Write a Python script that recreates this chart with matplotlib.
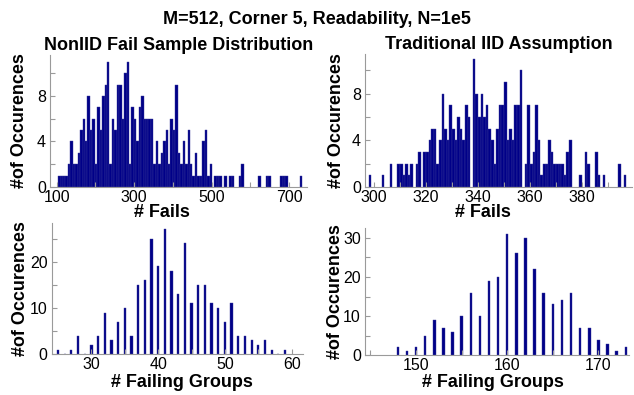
import matplotlib
matplotlib.use("Agg")
import matplotlib.pyplot as plt
import numpy as np

plt.rcParams["font.family"] = ["Liberation Sans", "DejaVu Sans"]

# Fail-count histogram, non-IID sampling (100 equal bins)
NONIID_BIN_START = 104.0
NONIID_BIN_WIDTH = 6.3
noniid_counts = [
    1, 1, 1, 1, 2, 4, 2, 2, 3, 5,
    6, 4, 8, 5, 6, 2, 7, 5, 8, 9,
    11, 2, 6, 5, 9, 9, 6, 10, 11, 2,
    7, 6, 4, 7, 8, 6, 6, 6, 6, 2,
    4, 2, 3, 4, 5, 2, 6, 5, 9, 3,
    2, 4, 2, 5, 2, 1, 3, 1, 1, 4,
    5, 1, 2, 0, 1, 1, 1, 0, 1, 0,
    1, 1, 0, 0, 1, 2, 0, 0, 0, 0,
    0, 0, 1, 0, 0, 1, 1, 0, 0, 0,
    0, 1, 1, 1, 0, 0, 0, 0, 0, 1,
]

# Fail-count histogram under the IID assumption (unit bins)
IID_BIN_START = 298.0
IID_BIN_WIDTH = 1.0
iid_counts = [
    1, 0, 0, 0, 0, 1, 0, 0, 2, 0,
    0, 2, 2, 1, 2, 1, 2, 0, 2, 3,
    0, 3, 3, 4, 5, 5, 2, 4, 8, 5,
    4, 7, 5, 4, 6, 5, 4, 7, 6, 0,
    11, 8, 6, 8, 6, 7, 5, 4, 2, 5,
    7, 7, 9, 4, 5, 4, 7, 7, 10, 0,
    2, 7, 2, 3, 7, 4, 1, 2, 2, 4,
    3, 2, 2, 2, 2, 1, 3, 4, 0, 0,
    0, 1, 0, 3, 2, 0, 0, 3, 1, 0,
    1, 0, 0, 0, 0, 0, 2, 0, 1,
]

# Failing-group counts
noniid_groups = list(range(25, 60))
noniid_group_counts = [
    1, 0, 1, 4, 0, 2, 4, 9, 3, 7,
    10, 4, 15, 16, 25, 19, 27, 18, 13, 24,
    11, 15, 15, 11, 10, 7, 11, 4, 4, 3,
    2, 3, 1, 0, 1,
]
iid_groups = list(range(148, 174))
iid_group_counts = [
    2, 1, 2, 5, 9, 7, 6, 10, 16, 10,
    19, 20, 31, 26, 30, 22, 16, 13, 14, 16,
    7, 7, 4, 3, 1, 2,
]

BAR_COLOR = "#000088"
EDGE_COLOR = "#3a3a9a"
AXIS_COLOR = "#9a9a9a"
W, H = 634, 395


def px_rect(left, top, right, bottom):
    return [left / W, 1 - bottom / H, (right - left) / W, (bottom - top) / H]


def style_axes(ax, xlim, ylim, xmajor, xminor, ymajor, yminor):
    ax.set_xlim(*xlim)
    ax.set_ylim(*ylim)
    for side in ("top", "right"):
        ax.spines[side].set_visible(False)
    for side in ("left", "bottom"):
        ax.spines[side].set_color(AXIS_COLOR)
        ax.spines[side].set_linewidth(0.8)
    ax.set_xticks(xmajor)
    ax.set_xticks(xminor, minor=True)
    ax.set_yticks(ymajor)
    ax.set_yticks(yminor, minor=True)
    ax.tick_params(which="both", direction="in", color=AXIS_COLOR, width=0.8,
                   length=3.5, labelsize=11.5, top=False, right=False)
    ax.tick_params(axis="x", pad=2)
    ax.tick_params(axis="y", pad=3)


def hist_bars(ax, start, width, counts):
    counts = np.asarray(counts, dtype=float)
    edges = start + width * np.arange(len(counts))
    keep = counts > 0
    ax.bar(edges[keep], counts[keep], width=width, align="edge",
           color=BAR_COLOR, edgecolor=EDGE_COLOR, linewidth=0.3)


def label(ax, xlabel, xpos, ylabel_x, xlabel_y):
    ax.set_ylabel("#of Occurences", fontsize=13, fontweight="bold")
    ax.yaxis.set_label_coords(ylabel_x, 0.5)
    ax.set_xlabel(xlabel, fontsize=13, fontweight="bold")
    ax.xaxis.set_label_coords(xpos, xlabel_y)


fig = plt.figure(figsize=(W / 100, H / 100), dpi=100)
fig.text(0.5, 1 - 23.5 / H, "M=512, Corner 5, Readability, N=1e5",
         ha="center", va="baseline", fontsize=13, fontweight="bold")

ax1 = fig.add_axes(px_rect(50, 55, 307, 187))
hist_bars(ax1, NONIID_BIN_START, NONIID_BIN_WIDTH, noniid_counts)
style_axes(ax1, (83, 746), (0, 11.6), [100, 300, 500, 700], [200, 400, 600],
           [0, 4, 8], [2, 6, 10])
ax1.set_title("NonIID Fail Sample Distribution", fontsize=13,
              fontweight="bold", pad=3.5)
label(ax1, "# Fails", 0.436, -0.085, -0.13)

ax2 = fig.add_axes(px_rect(365, 54, 632, 187))
hist_bars(ax2, IID_BIN_START, IID_BIN_WIDTH, iid_counts)
style_axes(ax2, (296.5, 399.2), (0, 11.4), [300, 320, 340, 360, 380],
           [310, 330, 350, 370, 390], [0, 4, 8], [2, 6, 10])
ax2.set_title("Traditional IID Assumption", fontsize=13,
              fontweight="bold", pad=3.5)
label(ax2, "# Fails", 0.442, -0.076, -0.13)

ax3 = fig.add_axes(px_rect(51.7, 223.3, 303, 354.3))
ax3.bar(noniid_groups, noniid_group_counts, width=0.33,
        color=BAR_COLOR, edgecolor=EDGE_COLOR, linewidth=0.3)
style_axes(ax3, (24.05, 61.7), (0, 28.3), [30, 40, 50, 60], [35, 45, 55],
           [0, 10, 20], [5, 15, 25])
label(ax3, "# Failing Groups", 0.518, -0.092, -0.15)

ax4 = fig.add_axes(px_rect(365, 228.3, 628.5, 355.3))
ax4.bar(iid_groups, iid_group_counts, width=0.27,
        color=BAR_COLOR, edgecolor=EDGE_COLOR, linewidth=0.3)
style_axes(ax4, (144.4, 173.3), (0, 32.4), [150, 160, 170], [145, 155, 165],
           [0, 10, 20, 30], [5, 15, 25])
label(ax4, "# Failing Groups", 0.486, -0.078, -0.145)

fig.savefig("out.png", dpi=100)
